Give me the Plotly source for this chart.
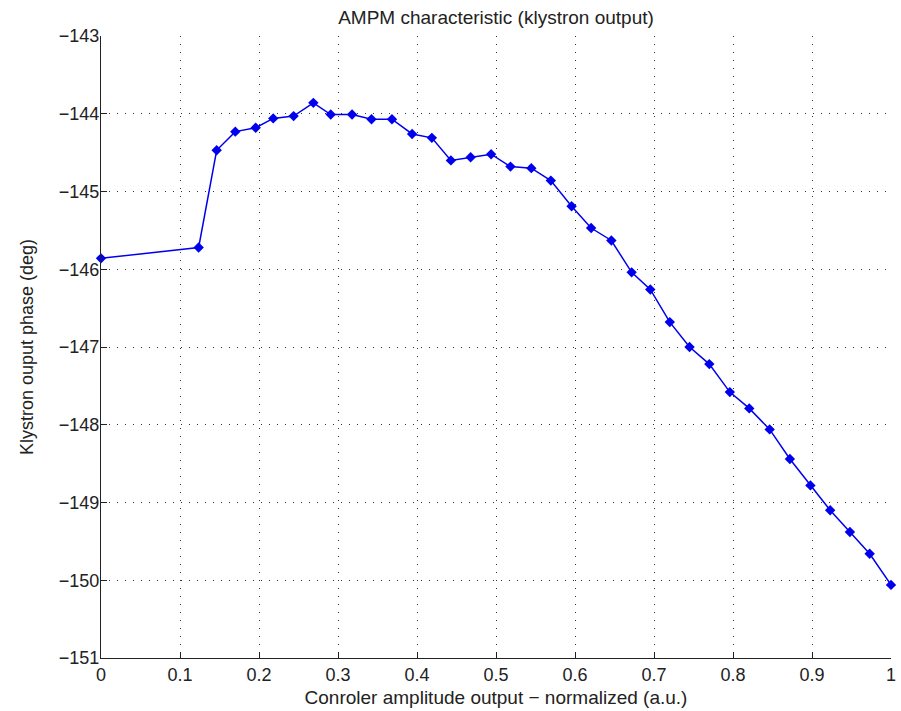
import plotly.graph_objects as go

# Data
amplitude = [0.0, 0.1236, 0.1464, 0.170, 0.1958, 0.218, 0.2438, 0.2688, 0.2908, 0.3178,
             0.3424, 0.3683, 0.3938, 0.4188, 0.4429, 0.4679, 0.4938, 0.5183, 0.5447,
             0.5694, 0.5957, 0.6204, 0.646, 0.6717, 0.6953, 0.720, 0.745, 0.770, 0.796,
             0.8206, 0.8464, 0.872, 0.898, 0.923, 0.948, 0.973, 1.0]
phase = [-145.86, -145.72, -144.47, -144.23, -144.18, -144.06, -144.03, -143.86, -144.01,
         -144.01, -144.07, -144.07, -144.26, -144.31, -144.60, -144.56, -144.52, -144.68,
         -144.70, -144.86, -145.19, -145.47, -145.63, -146.04, -146.26, -146.68, -147.00,
         -147.22, -147.58, -147.79, -148.06, -148.44, -148.78, -149.10, -149.38, -149.66,
         -150.06]

x_tickvals = [0, 0.1, 0.2, 0.3, 0.4, 0.5, 0.6, 0.7, 0.8, 0.9, 1.0]
x_ticktext = ["0", "0.1", "0.2", "0.3", "0.4", "0.5", "0.6", "0.7", "0.8", "0.9", "1"]
y_tickvals = [-151, -150, -149, -148, -147, -146, -145, -144, -143]
y_ticktext = ["\u2212151", "\u2212150", "\u2212149", "\u2212148", "\u2212147",
              "\u2212146", "\u2212145", "\u2212144", "\u2212143"]

title_text = "AMPM characteristic (klystron output)"
x_title = "Conroler amplitude output \u2212 normalized (a.u.)"
y_title = "Klystron ouput phase (deg)"

FONT = "Liberation Sans"

fig = go.Figure()
fig.add_trace(go.Scatter(
    x=amplitude, y=phase, mode="lines+markers",
    line=dict(color="#0000ee", width=1.5),
    marker=dict(symbol="diamond", size=8, color="#0000ee"),
    cliponaxis=False,
    showlegend=False,
))

axis_common = dict(
    showline=True, linecolor="#222222", linewidth=1.2, mirror=False,
    ticks="inside", ticklen=6, tickcolor="#222222", tickwidth=1.2,
    showgrid=True, gridcolor="#333333", gridwidth=1.2, griddash="1px,7px",
    zeroline=False, automargin=False, ticklabeloverflow="allow",
    tickfont=dict(family=FONT, size=18, color="#222222"),
)

fig.update_layout(
    width=901, height=711,
    margin=dict(l=101, r=10, t=36, b=53),
    paper_bgcolor="white", plot_bgcolor="white",
    title=dict(text=title_text, xref="paper", x=0.5, xanchor="center",
               y=1 - 17.5 / 711, yanchor="middle",
               font=dict(family=FONT, size=19, color="#222222")),
    xaxis=dict(range=[0, 1], tickvals=x_tickvals, ticktext=x_ticktext,
               title=dict(text=x_title, standoff=6,
                          font=dict(family=FONT, size=19, color="#222222")),
               **axis_common),
    yaxis=dict(range=[-151, -143], tickvals=y_tickvals, ticktext=y_ticktext,
               ticklabelstandoff=-3,
               title=dict(text=y_title, standoff=20,
                          font=dict(family=FONT, size=18, color="#222222")),
               **axis_common),
)

fig.write_html("out.html", config={"displayModeBar": False},
               post_script="document.body.style.margin='0';")
